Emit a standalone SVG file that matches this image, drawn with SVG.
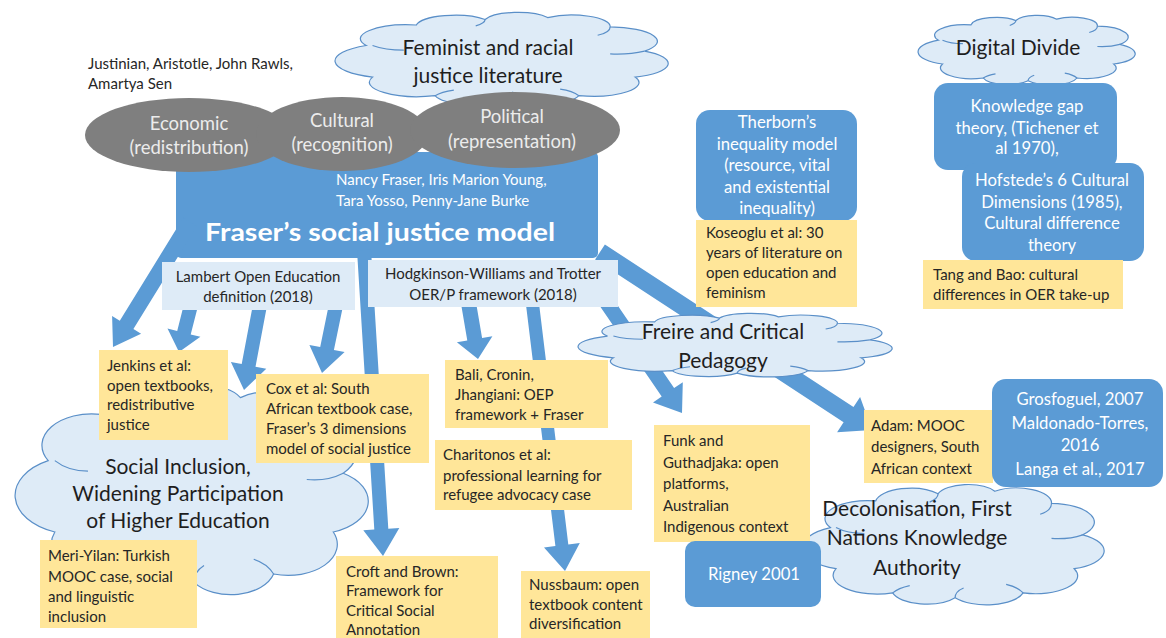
<svg xmlns="http://www.w3.org/2000/svg" xmlns:xlink="http://www.w3.org/1999/xlink" width="1166" height="638" viewBox="0 0 1166 638">
<style>
text{font-family:Lato,"Open Sans","Liberation Sans",sans-serif;}
.dk{fill:#262626;font-size:15px;}
.ct{fill:#1e1e1e;font-size:21px;text-anchor:middle;}
.wh{fill:#ffffff;font-size:16.7px;text-anchor:middle;}
.el{fill:#ececec;font-size:18.5px;text-anchor:middle;}
.lb{fill:#262626;font-size:15px;text-anchor:middle;}
.yel{fill:#ffe699;}
.blu{fill:#5b9bd5;}
.lbl{fill:#deebf7;}
.arr{fill:#5b9bd5;}
</style>
<defs>
<g id="cloud">
<path d="M6,36 A15 15 0 0 1 22,14 A12.5 12.5 0 0 1 44,8 A11 11 0 0 1 64,6 A12.3 12.3 0 0 1 84,16 A15.5 15.5 0 0 1 95,42 A15.5 15.5 0 0 1 92,70 A14.8 14.8 0 0 1 74,90 A13.4 13.4 0 0 1 50,94 A12.3 12.3 0 0 1 28,90 A15.5 15.5 0 0 1 8,70 A18.7 18.7 0 0 1 6,36 Z" fill="#deebf7" stroke="#5a8fc8" stroke-width="1.2" vector-effect="non-scaling-stroke"/>
<path d="M8,36 Q12,41 18,41 M44,8 Q44,12 41,15 M84,16 Q84,22 80,25 M95,42 Q90,46 84,45 M74,90 Q72,85 68,83 M50,94 Q50,89 53,86 M28,90 Q30,86 34,84" fill="none" stroke="#5a8fc8" stroke-width="1.2" vector-effect="non-scaling-stroke"/>
</g>
</defs>

<g id="social-inclusion">
<use xlink:href="#cloud" transform="translate(28.3,385) scale(3.315,2.1)"/>
<text class="ct"><tspan x="178" y="474">Social Inclusion,</tspan><tspan x="178" y="501">Widening Participation</tspan><tspan x="178" y="528">of Higher Education</tspan></text>
</g>

<g id="decolonisation">
<use xlink:href="#cloud" transform="translate(813.3,484) scale(2.836,1.21)"/>
<text class="ct"><tspan x="917" y="516">Decolonisation, First</tspan><tspan x="917" y="545">Nations Knowledge</tspan><tspan x="917" y="575">Authority</tspan></text>
</g>

<g id="feminist">
<use xlink:href="#cloud" transform="translate(347.5,12) scale(3.127,0.93)"/>
<text class="ct"><tspan x="488" y="55">Feminist and racial</tspan><tspan x="488" y="83">justice literature</tspan></text>
</g>

<g id="digital-divide">
<use xlink:href="#cloud" transform="translate(926.2,15) scale(2.038,0.7)"/>
<text class="ct" x="1018" y="55">Digital Divide</text>
</g>

<g id="fraser">
<rect x="176" y="152" width="422" height="106" rx="5" class="blu"/>
</g>

<g id="connectors">
<polygon class="arr" points="183.2,217.8 119.8,320.7 112.1,316.0 113,347 141.1,333.8 133.4,329.1 196.8,226.2"/>
<polygon class="arr" points="184.2,303.3 177.2,330.9 167.5,328.4 179,352 200.4,336.8 190.7,334.4 197.8,306.7"/>
<polygon class="arr" points="253.1,303.7 241.7,364.1 230.9,362.1 244,390 266.3,368.7 255.5,366.7 266.9,306.3"/>
<polygon class="arr" points="329.1,303.6 320.2,347.1 309.4,344.9 322,373 344.6,352.1 333.9,349.9 342.9,306.4"/>
<polygon class="arr" points="357.0,250.4 374.3,529.5 363.3,530.2 383,556 399.3,528.0 388.3,528.7 371.0,249.6"/>
<polygon class="arr" points="460.6,301.3 467.3,340.5 456.9,342.3 478,359 492.4,336.3 482.1,338.0 475.4,298.8"/>
<polygon class="arr" points="525.5,300.8 555.4,546.0 544.0,547.4 565,571 579.8,543.0 568.3,544.4 538.5,299.2"/>
<polygon class="arr" points="591.8,294.2 661.7,396.6 653.0,402.5 682,413 682.8,382.2 674.1,388.1 604.2,285.8"/>
<polygon class="arr" points="595.1,259.5 843.6,422.2 837.1,432.2 872,430 860.1,397.1 853.5,407.1 604.9,244.5"/>
</g>

<g id="fraser-labels">
<text fill="#ffffff" font-size="15"><tspan x="336" y="185">Nancy Fraser, Iris Marion Young,</tspan><tspan x="336" y="206">Tara Yosso, Penny-Jane Burke</tspan></text>
<text fill="#ffffff" font-size="25" font-weight="bold" x="205" y="241" textLength="350" lengthAdjust="spacingAndGlyphs">Fraser’s social justice model</text>
</g>

<g id="dimensions">
<ellipse cx="189" cy="135" rx="104" ry="37" fill="#7f7f7f"/>
<ellipse cx="342" cy="134" rx="86" ry="37" fill="#7f7f7f"/>
<ellipse cx="515" cy="130" rx="105" ry="38" fill="#7f7f7f"/>
<text class="el"><tspan x="189" y="130">Economic</tspan><tspan x="189" y="154">(redistribution)</tspan></text>
<text class="el"><tspan x="342" y="127">Cultural</tspan><tspan x="342" y="151">(recognition)</tspan></text>
<text class="el"><tspan x="512" y="123">Political</tspan><tspan x="512" y="148">(representation)</tspan></text>
</g>

<g id="philosophers">
<text class="dk"><tspan x="88" y="69">Justinian, Aristotle, John Rawls,</tspan><tspan x="88" y="89">Amartya Sen</tspan></text>
</g>

<g id="freire">
<use xlink:href="#cloud" transform="translate(589.8,313) scale(2.948,0.64)"/>
<text class="ct"><tspan x="723" y="339">Freire and Critical</tspan><tspan x="723" y="368">Pedagogy</tspan></text>
</g>

<g id="lambert">
<rect x="162" y="262" width="193" height="48" class="lbl"/>
<text class="lb"><tspan x="258" y="282">Lambert Open Education</tspan><tspan x="258" y="302">definition (2018)</tspan></text>
</g>

<g id="hodgkinson">
<rect x="368" y="260" width="250" height="47" class="lbl"/>
<text class="lb"><tspan x="493" y="279">Hodgkinson-Williams and Trotter</tspan><tspan x="493" y="300">OER/P framework (2018)</tspan></text>
</g>

<g id="therborn">
<rect x="696" y="110" width="161" height="111" rx="14" class="blu"/>
<text class="wh"><tspan x="777" y="128">Therborn’s</tspan><tspan x="777" y="150">inequality model</tspan><tspan x="777" y="171">(resource, vital</tspan><tspan x="777" y="193">and existential</tspan><tspan x="777" y="214">inequality)</tspan></text>
</g>

<g id="koseoglu">
<rect x="696" y="220" width="161" height="87" class="yel"/>
<text class="dk"><tspan x="706" y="238">Koseoglu et al: 30</tspan><tspan x="706" y="258">years of literature on</tspan><tspan x="706" y="278">open education and</tspan><tspan x="706" y="298">feminism</tspan></text>
</g>

<g id="knowledge-gap">
<rect x="934" y="83" width="183" height="87" rx="14" class="blu"/>
<text class="wh"><tspan x="1027" y="112">Knowledge gap</tspan><tspan x="1027" y="134">theory, (Tichener et</tspan><tspan x="1027" y="154">al 1970),</tspan></text>
</g>

<g id="hofstede">
<rect x="962" y="163" width="182" height="98" rx="14" class="blu"/>
<text class="wh"><tspan x="1052" y="186">Hofstede’s 6 Cultural</tspan><tspan x="1052" y="208">Dimensions (1985),</tspan><tspan x="1052" y="229">Cultural difference</tspan><tspan x="1052" y="251">theory</tspan></text>
</g>

<g id="tang-bao">
<rect x="923" y="260" width="200" height="49" class="yel"/>
<text class="dk"><tspan x="933" y="280">Tang and Bao: cultural</tspan><tspan x="933" y="300">differences in OER take-up</tspan></text>
</g>

<g id="jenkins">
<rect x="99" y="350" width="129" height="90" class="yel"/>
<text class="dk"><tspan x="107" y="371">Jenkins et al:</tspan><tspan x="107" y="391">open textbooks,</tspan><tspan x="107" y="410">redistributive</tspan><tspan x="107" y="430">justice</tspan></text>
</g>

<g id="cox">
<rect x="256" y="374" width="173" height="89" class="yel"/>
<text class="dk"><tspan x="266" y="394">Cox et al: South</tspan><tspan x="266" y="414">African textbook case,</tspan><tspan x="266" y="434">Fraser’s 3 dimensions</tspan><tspan x="266" y="454">model of social justice</tspan></text>
</g>

<g id="bali">
<rect x="445" y="360" width="163" height="68" class="yel"/>
<text class="dk"><tspan x="455" y="380">Bali, Cronin,</tspan><tspan x="455" y="400">Jhangiani: OEP</tspan><tspan x="455" y="420">framework + Fraser</tspan></text>
</g>

<g id="charitonos">
<rect x="435" y="440" width="197" height="70" class="yel"/>
<text class="dk"><tspan x="443" y="460">Charitonos et al:</tspan><tspan x="443" y="481">professional learning for</tspan><tspan x="443" y="500">refugee advocacy case</tspan></text>
</g>

<g id="funk">
<rect x="654" y="425" width="156" height="117" class="yel"/>
<text class="dk"><tspan x="663" y="446">Funk and</tspan><tspan x="663" y="468">Guthadjaka: open</tspan><tspan x="663" y="489">platforms,</tspan><tspan x="663" y="511">Australian</tspan><tspan x="663" y="532">Indigenous context</tspan></text>
</g>

<g id="adam">
<rect x="864" y="410" width="129" height="73" class="yel"/>
<text class="dk"><tspan x="871" y="431">Adam: MOOC</tspan><tspan x="871" y="452">designers, South</tspan><tspan x="871" y="474">African context</tspan></text>
</g>

<g id="grosfoguel">
<rect x="992" y="379" width="171" height="108" rx="14" class="blu"/>
<text class="wh"><tspan x="1080" y="405">Grosfoguel, 2007</tspan><tspan x="1080" y="429">Maldonado-Torres,</tspan><tspan x="1080" y="451">2016</tspan><tspan x="1080" y="475">Langa et al., 2017</tspan></text>
</g>

<g id="rigney">
<rect x="685" y="541" width="136" height="66" rx="10" class="blu"/>
<text class="wh" x="754" y="580">Rigney 2001</text>
</g>

<g id="meri-yilan">
<rect x="40" y="540" width="157" height="88" class="yel"/>
<text class="dk"><tspan x="48" y="561">Meri-Yilan: Turkish</tspan><tspan x="48" y="582">MOOC case, social</tspan><tspan x="48" y="602">and linguistic</tspan><tspan x="48" y="622">inclusion</tspan></text>
</g>

<g id="croft">
<rect x="336" y="556" width="162" height="82" class="yel"/>
<text class="dk"><tspan x="346" y="577">Croft and Brown:</tspan><tspan x="346" y="596">Framework for</tspan><tspan x="346" y="616">Critical Social</tspan><tspan x="346" y="635">Annotation</tspan></text>
</g>

<g id="nussbaum">
<rect x="521" y="571" width="129" height="67" class="yel"/>
<text class="dk"><tspan x="529" y="590">Nussbaum: open</tspan><tspan x="529" y="610">textbook content</tspan><tspan x="529" y="629">diversification</tspan></text>
</g>
</svg>
